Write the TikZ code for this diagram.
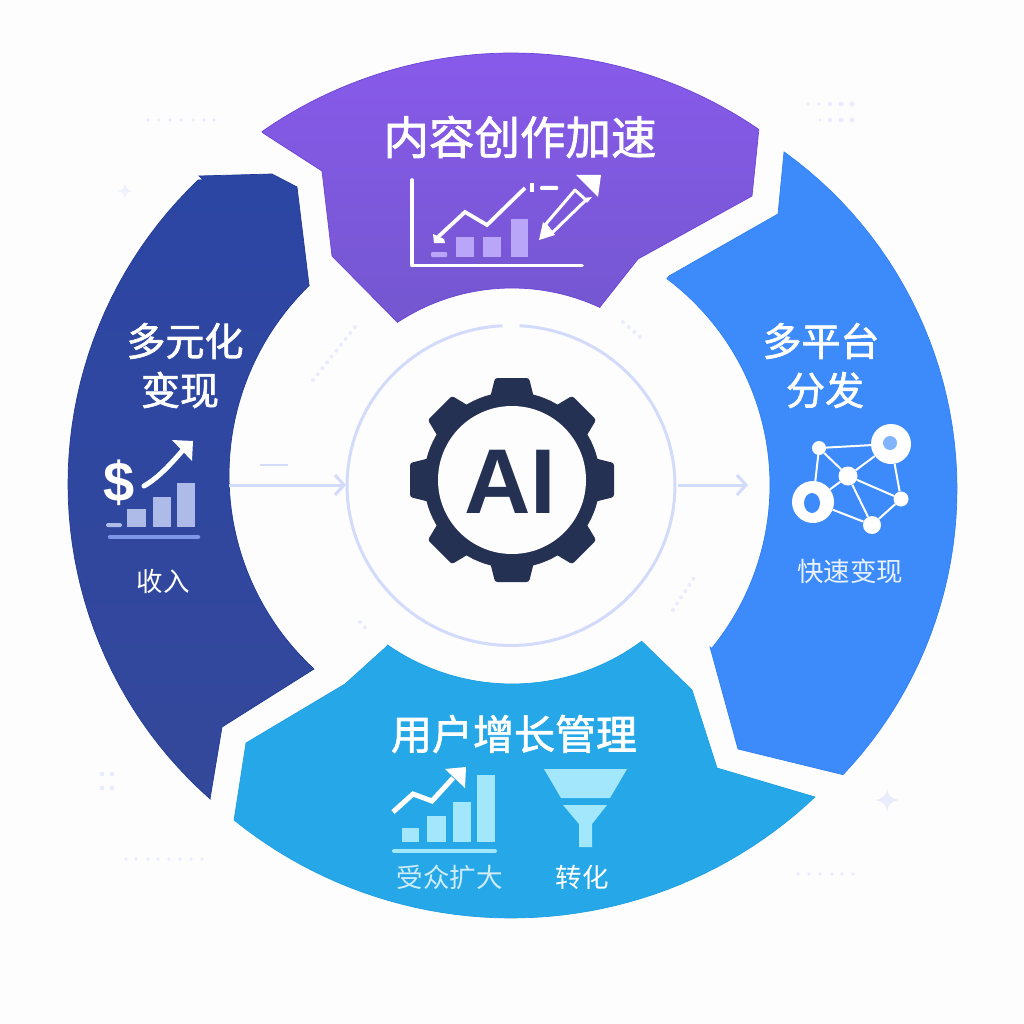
\documentclass[tikz,border=0pt]{standalone}
\usepackage{fontspec}
\usetikzlibrary{arrows.meta}
\newfontfamily\cjk{Noto Sans CJK SC}
\newfontfamily\cjkm[FakeBold=1.6]{Noto Sans CJK SC}
\setmainfont{Liberation Sans}
\definecolor{bg}{HTML}{FDFDFE}
\definecolor{ringc}{HTML}{D3DBFB}
\definecolor{dotc}{HTML}{E9ECFD}
\definecolor{gearc}{HTML}{243152}
\definecolor{bluec}{HTML}{3D8BFB}
\definecolor{cyanc}{HTML}{26A8E8}
\definecolor{cyanbar}{HTML}{A3E7FD}
\definecolor{purplebar}{HTML}{B9A6F8}
\definecolor{navybar}{HTML}{AEBBE9}
\definecolor{purpletop}{HTML}{885AEA}
\definecolor{purplebot}{HTML}{7457D0}
\definecolor{purpleedge}{HTML}{6A45D9}
\definecolor{navytop}{HTML}{2C46A4}
\definecolor{navybot}{HTML}{34489A}
\definecolor{navyedge}{HTML}{1F3A94}
\definecolor{navyline}{HTML}{7E97E6}
\definecolor{blueedge}{HTML}{2F80F5}
\definecolor{cyanedge}{HTML}{1E9FE3}
\newcommand{\fs}[1]{\fontsize{#1}{#1}\selectfont}
\tikzset{
  pl/.style={samples=48},
  title/.style={text=white,inner sep=0pt,align=center},
  bigt/.style={title,font=\cjkm\fs{45.5}},
  midt/.style={title,font=\cjkm\fs{41}},
  sidet/.style={title,font=\cjkm\fs{39}},
  small/.style={inner sep=0pt,font=\cjk\fs{26.5}},
  ringline/.style={draw=ringc,line width=3pt},
  flow/.style={ringline,-{Straight Barb[length=9pt,width=20pt,line width=3pt]}},
  dotf/.style={fill=dotc},
  netn/.style={circle,fill=white,inner sep=0pt},
  netl/.style={draw=white,line width=2pt},
  whitel/.style={draw=white,line cap=butt,line join=miter},
}
\begin{document}
\begin{tikzpicture}[x=1pt,y=-1pt]
\useasboundingbox (0,0) rectangle (1024,1024);
\fill[bg] (0,0) rectangle (1024,1024);

% background decoration
\foreach \x in {148,159,170,181,193,204,214} \fill[dotf] (\x,120) circle[radius=1.9pt];
\foreach \x/\r in {808/1.6,819/1.9,830/2.2,841/2.6,852/2.6} \fill[dotf] (\x,104) circle[radius=\r pt];
\foreach \x/\r in {820/1.7,830/2.3,841/2.6,852/2.4} \fill[dotf] (\x,120) circle[radius=\r pt];
\foreach \x/\y in {102/774,112/774,102/788,112/788} \fill[dotf] (\x,\y) circle[radius=2.4pt];
\foreach \x in {126,136,148,158,169,180,191,202} \fill[dotf] (\x,859) circle[radius=1.8pt];
\foreach \x in {798,809,820,832,842,853} \fill[dotf] (\x,874) circle[radius=1.8pt];
\fill[dotc!70!bg] (125,183) .. controls (126,189) and (127,190) .. (133,191) .. controls (127,192) and (126,193) .. (125,200) .. controls (124,193) and (123,192) .. (117,191) .. controls (123,190) and (124,189) .. (125,183) -- cycle;
\fill[dotc] (887,788) .. controls (888,796) and (890,798) .. (899,800) .. controls (890,802) and (888,804) .. (887,813) .. controls (886,804) and (884,802) .. (875,800) .. controls (884,798) and (886,796) .. (887,788) -- cycle;
\foreach \a/\b/\c/\d in {313/380/355/327,623/322/640/337,673/610/697/573,360/622/370/633}
  \draw[dotc,line width=4pt,line cap=round,dash pattern=on 0pt off 7.5pt] (\a,\b) -- (\c,\d);
\coordinate (dashA) at (260,465); \coordinate (dashB) at (288,465);
\draw[ringc,line width=2pt] (dashA) -- (dashB);

% segments
\path[draw=purpleedge,line width=0.7pt,top color=purpletop,bottom color=purplebot]
  (263,133) -- plot[pl,domain=124.9:55.6] ({512+437*cos(\x)},{490-437*sin(\x)}) -- (752,196) -- (638,259) -- (600,307)
  -- plot[pl,domain=65:123.4] ({512+208*cos(\x)},{496-208*sin(\x)}) -- (332,256) -- (322,171) -- cycle;
\path[draw=blueedge,line width=0.7pt,fill=bluec]
  (784,152) -- plot[pl,domain=54.3:-43.5] ({542+415*cos(\x)},{489-415*sin(\x)}) -- (738,749) -- (710,647)
  -- plot[pl,domain=-39.3:53.1] ({512+258*cos(\x)},{485-258*sin(\x)}) -- (669,276) -- (778,214) -- cycle;
\path[draw=navyedge,line width=0.7pt,top color=navytop,bottom color=navybot]
  (199,176) -- (272,174) -- (297,187) -- (309,285)
  -- plot[pl,domain=134.1:227.3] ({493+264*cos(\x)},{475-264*sin(\x)}) -- (222,727) -- (210,799)
  -- plot[pl,domain=228.6:133.6] ({488+420*cos(\x)},{484-420*sin(\x)}) -- (203,180) -- cycle;
\path[draw=cyanedge,line width=0.7pt,fill=cyanc]
  (345,684) -- (386,647) -- plot[pl,domain=235.2:306.5] ({512+218*cos(\x)},{466-218*sin(\x)}) -- (692,690) -- (717,768) -- (815,797)
  -- plot[pl,domain=313.5:231.1] ({511.3+441.5*cos(\x)},{476.5-441.5*sin(\x)}) -- (246,743) -- cycle;

% centre ring and arrows
\draw[ringline] plot[samples=120,domain=87:-267] ({511+164*cos(\x)},{485.5-160*sin(\x)});
\coordinate (leftA) at (229,485); \coordinate (leftB) at (346,485);
\coordinate (rightA) at (678,485); \coordinate (rightB) at (748,485);
\draw[flow] (leftA) -- (leftB);
\draw[flow] (rightA) -- (rightB);

% gear
\foreach \a in {0,45,...,315}
  \fill[gearc,rounded corners=2.5pt,shift={(512,480)},rotate=\a]
    (-22.5,-80) -- (-17,-102) -- (17,-102) -- (22.5,-80) -- cycle;
\fill[gearc] (512,480) circle[radius=88pt];
\fill[bg] (512,480) circle[radius=74pt];
\node[text=gearc,font=\bfseries\fs{92},inner sep=0pt,anchor=base] (ai) at (510,513) {AI};

% purple block
\node[bigt] (t1) at (520,137) {内容创作加速};
\coordinate (pAxT) at (412,180); \coordinate (pAxO) at (412,265.5); \coordinate (pAxR) at (582,265.5);
\draw[draw=white,line width=3.6pt,line cap=round,line join=round] (pAxT) -- (pAxO) -- (pAxR);
\fill[purplebar,rounded corners=1pt] (431,252) rectangle (447,257);
\fill[purplebar] (456,237) rectangle (474,257);
\fill[purplebar] (483,237) rectangle (501,257);
\fill[purplebar] (511,219) rectangle (528,257);
\draw[whitel,line width=3.8pt] (438,237) -- (465,212) -- (487,225) -- (525,188);
\fill[white] (433,234) -- (444,239) -- (445,243) -- (434,243) -- cycle;
\fill[white] (530,183) rectangle (534,192);
\fill[white,rounded corners=1pt] (540,186) rectangle (558,190);
% pencil
\draw[whitel,line width=3pt,line join=round] (545,225) -- (575,190) -- (586,200) -- (552,233);
\draw[white,line width=3pt] (545,224) -- (552,233);
\fill[white] (539,240) -- (543,222) -- (555,235) -- cycle;
\fill[white] (583,198) -- (592,197) -- (587,203) -- cycle;
\fill[white] (576,175) -- (601,175) -- (598,197) -- cycle;

% navy block
\node[sidet] (t2a) at (185,341) {多元化};
\node[sidet] (t2b) at (180,390) {变现};
\node[text=white,font=\bfseries\fs{56},inner sep=0pt] (dollar) at (119,483) {\$};
\fill[navybar,rounded corners=1.5pt] (106,523) rectangle (122,527);
\fill[navybar] (127,509) rectangle (146,527);
\fill[navybar] (153,497) rectangle (171,527);
\fill[navybar] (177,483) rectangle (195,527);
\draw[navyline,line width=4.5pt,line cap=round] (110,537) -- (198,537);
\draw[white,line width=5pt,line cap=round] (144,486) .. controls (158,478) and (170,465) .. (183,450);
\fill[white] (172,440) -- (193,441) -- (192,461) -- cycle;
\node[small,text=white] (l2) at (163,581) {收入};

% blue block
\node[sidet] (t3a) at (821,341) {多平台};
\node[sidet] (t3b) at (825,390) {分发};
\node[netn,minimum size=14pt] (na) at (819,448) {};
\node[netn,minimum size=40pt] (nb) at (891,444) {};
\node[netn,minimum size=19pt] (nc) at (848,476) {};
\node[netn,minimum size=42pt] (nd) at (813,502) {};
\node[netn,minimum size=15pt] (ne) at (901,499) {};
\node[netn,minimum size=18pt] (nf) at (872,525) {};
\foreach \p/\q in {na/nb,na/nc,na/nd,nb/nc,nb/ne,nc/nd,nc/ne,nc/nf,nd/nf,ne/nf}
  \draw[netl] (\p) -- (\q);
\fill[bluec!65!white] (890,443) circle[radius=7pt];
\fill[bluec] (812,503) ellipse[x radius=8pt,y radius=10pt];
\node[small,text=white!88!bluec] (l3) at (850,571) {快速变现};

% cyan block
\node[midt] (t4) at (514,734) {用户增长管理};
\fill[cyanbar] (402,828) rectangle (419,842);
\fill[cyanbar] (427,816) rectangle (446,842);
\fill[cyanbar] (453,802) rectangle (471,842);
\fill[cyanbar] (477,775) rectangle (495,842);
\draw[cyanbar,line width=4pt,line cap=round] (394,851) -- (495,851);
\draw[whitel,line width=5pt] (393,812) -- (413,794) -- (432,801) -- (453,778);
\fill[white] (445,769) -- (466,767) -- (465,788) -- cycle;
\fill[cyanbar] (544,769) -- (627,769) -- (610,798) -- (561,798) -- cycle;
\fill[cyanbar] (563,805) -- (607,805) -- (592,824) -- (592,847) -- (579,847) -- (579,824) -- cycle;
\node[small,text=white!78!cyanc] (l4a) at (449.5,877) {受众扩大};
\node[small,text=white] (l4b) at (582,877) {转化};
\end{tikzpicture}
\end{document}
